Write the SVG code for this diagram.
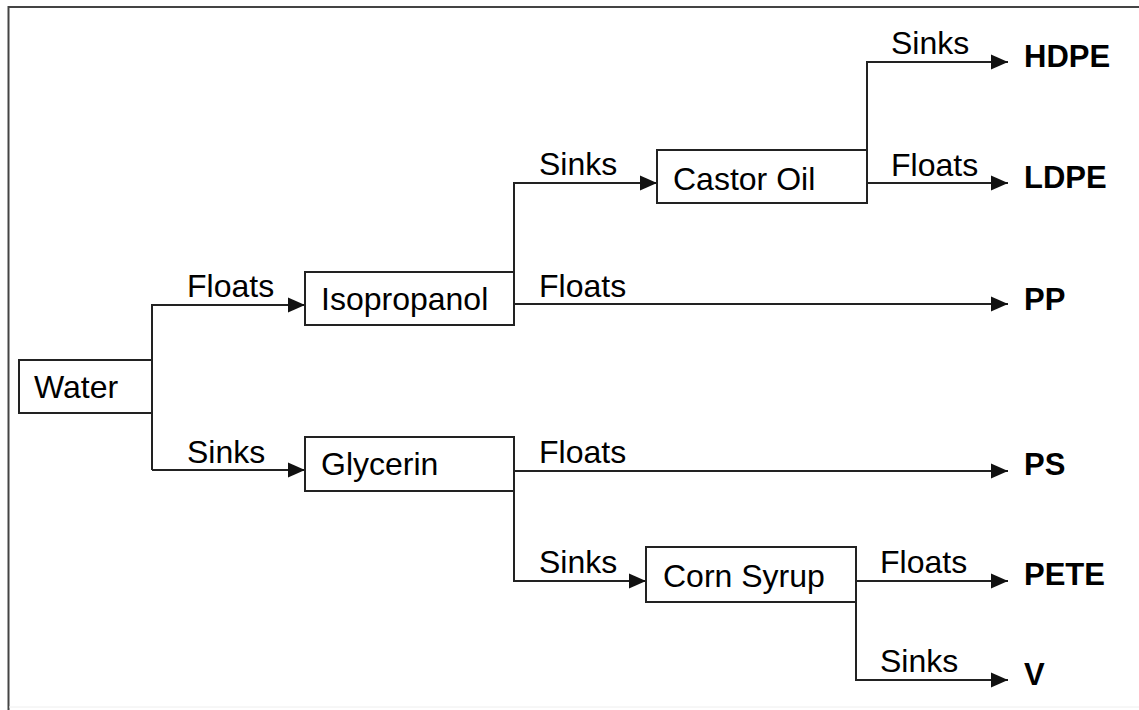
<svg xmlns="http://www.w3.org/2000/svg" width="1139" height="710" viewBox="0 0 1139 710">
<style>
.box{fill:#fff;stroke:#222;stroke-width:2}
.ln{fill:none;stroke:#222;stroke-width:2}
.t{font-family:"Liberation Sans",Arial,sans-serif;font-size:32px;fill:#000}
.b{font-family:"Liberation Sans",Arial,sans-serif;font-size:31px;font-weight:bold;fill:#000}
</style>
<defs>
<marker id="ah" markerUnits="userSpaceOnUse" markerWidth="17" markerHeight="16" refX="17" refY="8" orient="auto">
<path d="M0,0.5 L17,8 L0,15.5 Z" fill="#111"/>
</marker>
</defs>
<rect width="1139" height="710" fill="#fff"/>
<g id="frame">
<path d="M8.5,710 V7 H1139" fill="none" stroke="#444" stroke-width="2"/>
<path d="M9,707 H1139" fill="none" stroke="#eee" stroke-width="1"/>
</g>
<g id="connectors">
<path class="ln" d="M152,413 V470"/>
<path class="ln" d="M152,360 V305 H305" marker-end="url(#ah)"/>
<path class="ln" d="M152,470 H305" marker-end="url(#ah)"/>
<path class="ln" d="M514,272 V183 H657" marker-end="url(#ah)"/>
<path class="ln" d="M514,304 H1008" marker-end="url(#ah)"/>
<path class="ln" d="M867,150 V62 H1008" marker-end="url(#ah)"/>
<path class="ln" d="M867,183 H1008" marker-end="url(#ah)"/>
<path class="ln" d="M514,471 H1008" marker-end="url(#ah)"/>
<path class="ln" d="M514,491 V581 H646" marker-end="url(#ah)"/>
<path class="ln" d="M856,581 H1008" marker-end="url(#ah)"/>
<path class="ln" d="M856,602 V680 H1008" marker-end="url(#ah)"/>
<text class="t" x="187" y="297">Floats</text>
<text class="t" x="187" y="463">Sinks</text>
<text class="t" x="539" y="175">Sinks</text>
<text class="t" x="539" y="297">Floats</text>
<text class="t" x="891" y="54">Sinks</text>
<text class="t" x="891" y="176">Floats</text>
<text class="t" x="539" y="463">Floats</text>
<text class="t" x="539" y="573">Sinks</text>
<text class="t" x="880" y="573">Floats</text>
<text class="t" x="880" y="672">Sinks</text>
</g>
<g id="water"><rect class="box" x="19" y="360" width="133" height="53"/><text class="t" x="34" y="398">Water</text></g>
<g id="isopropanol"><rect class="box" x="305" y="272" width="209" height="53"/><text class="t" x="321" y="310">Isopropanol</text></g>
<g id="glycerin"><rect class="box" x="305" y="437" width="209" height="54"/><text class="t" x="321" y="475">Glycerin</text></g>
<g id="castor-oil"><rect class="box" x="657" y="150" width="210" height="53"/><text class="t" x="673" y="190">Castor Oil</text></g>
<g id="corn-syrup"><rect class="box" x="646" y="547" width="210" height="55"/><text class="t" x="663" y="587">Corn Syrup</text></g>
<g id="hdpe"><text class="b" x="1024" y="67">HDPE</text></g>
<g id="ldpe"><text class="b" x="1024" y="188">LDPE</text></g>
<g id="pp"><text class="b" x="1024" y="310">PP</text></g>
<g id="ps"><text class="b" x="1024" y="475">PS</text></g>
<g id="pete"><text class="b" x="1024" y="585">PETE</text></g>
<g id="v"><text class="b" x="1024" y="685">V</text></g>
</svg>
